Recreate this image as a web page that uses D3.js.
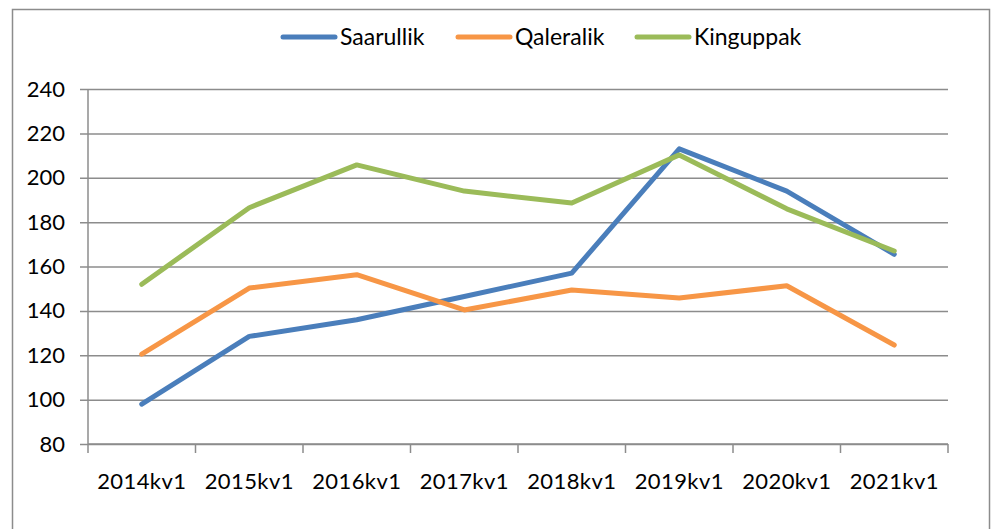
<!DOCTYPE html>
<html>
<head>
<meta charset="utf-8">
<script src="https://cdn.jsdelivr.net/npm/d3@7"></script>
<style>
  body { margin: 0; background: #fff; }
  svg text { font-family: Lato, "Open Sans", sans-serif; fill: #000; }
</style>
</head>
<body>
<svg id="chart" width="998" height="529"></svg>
<script>
// data
var categories = ["2014kv1", "2015kv1", "2016kv1", "2017kv1", "2018kv1", "2019kv1", "2020kv1", "2021kv1"];
var saarullik = [98, 128.5, 136, 146.5, 157, 213, 194, 165.5];
var qaleralik = [120.5, 150.3, 156.3, 140.4, 149.4, 145.8, 151.3, 124.6];
var kinguppak = [152, 186.5, 205.8, 194, 188.6, 210.3, 186, 167];
var seriesNames = ["Saarullik", "Qaleralik", "Kinguppak"];
var seriesColors = ["#4a7ebb", "#f79646", "#9bbb59"];
var yTicks = [80, 100, 120, 140, 160, 180, 200, 220, 240];

var series = [saarullik, qaleralik, kinguppak];

var svg = d3.select("#chart");
var plotL = 88, plotR = 948, plotT = 89, plotB = 444;

// outer frame
svg.append("rect")
    .attr("x", 12.5).attr("y", 9.5)
    .attr("width", 977).attr("height", 530)
    .attr("fill", "none").attr("stroke", "#8c8c8c").attr("stroke-width", 1.5);

var x = d3.scaleBand().domain(categories).range([plotL, plotR]);
var y = d3.scaleLinear().domain([80, 240]).range([plotB, plotT]);

// gridlines + y axis
var yAxis = d3.axisLeft(y).tickValues(yTicks).tickSize(-(plotR - plotL)).tickPadding(12);
var gy = svg.append("g").attr("transform", "translate(" + plotL + ",0)").call(yAxis);
gy.select(".domain").remove();
gy.selectAll(".tick line").attr("stroke", "#8c8c8c").attr("stroke-width", 1.5).attr("x1", -8);
gy.selectAll(".tick text").style("font-size", "22px").attr("x", -23);

svg.append("line")
    .attr("x1", plotL).attr("x2", plotL).attr("y1", plotT).attr("y2", plotB)
    .attr("stroke", "#8c8c8c").attr("stroke-width", 1.5);

// x axis with ticks at band edges
var gx = svg.append("g").attr("transform", "translate(0," + plotB + ")");
gx.append("line").attr("x1", plotL).attr("x2", plotR)
    .attr("stroke", "#8c8c8c").attr("stroke-width", 1.5);
var edges = categories.map(function(c){ return x(c); }).concat([plotR]);
gx.selectAll(".edge").data(edges).enter().append("line")
    .attr("x1", function(d){ return d; }).attr("x2", function(d){ return d; })
    .attr("y1", 0).attr("y2", 9)
    .attr("stroke", "#8c8c8c").attr("stroke-width", 1.5);
gx.selectAll(".lbl").data(categories).enter().append("text")
    .attr("x", function(d){ return x(d) + x.bandwidth() / 2; })
    .attr("y", 45)
    .attr("text-anchor", "middle")
    .style("font-size", "22px")
    .style("letter-spacing", "0.4px")
    .text(function(d){ return d; });

// lines
var line = d3.line()
    .x(function(d, i){ return x(categories[i]) + x.bandwidth() / 2; })
    .y(function(d){ return y(d); });

series.forEach(function(s, k){
    svg.append("path")
        .datum(s)
        .attr("d", line)
        .attr("fill", "none")
        .attr("stroke", seriesColors[k])
        .attr("stroke-width", 5)
        .attr("stroke-linejoin", "round")
        .attr("stroke-linecap", "round");
});

// legend
var legendX = [283, 458, 637];
var legend = svg.selectAll(".legend").data(seriesNames).enter().append("g")
    .attr("transform", function(d, i){ return "translate(" + legendX[i] + ",37)"; });
legend.append("line")
    .attr("x1", 0).attr("x2", 52).attr("y1", 0).attr("y2", 0)
    .attr("stroke", function(d, i){ return seriesColors[i]; })
    .attr("stroke-width", 5)
    .attr("stroke-linecap", "round");
legend.append("text")
    .attr("x", 57).attr("y", 8)
    .style("font-size", "23px")
    .text(function(d){ return d; });
</script>
</body>
</html>
